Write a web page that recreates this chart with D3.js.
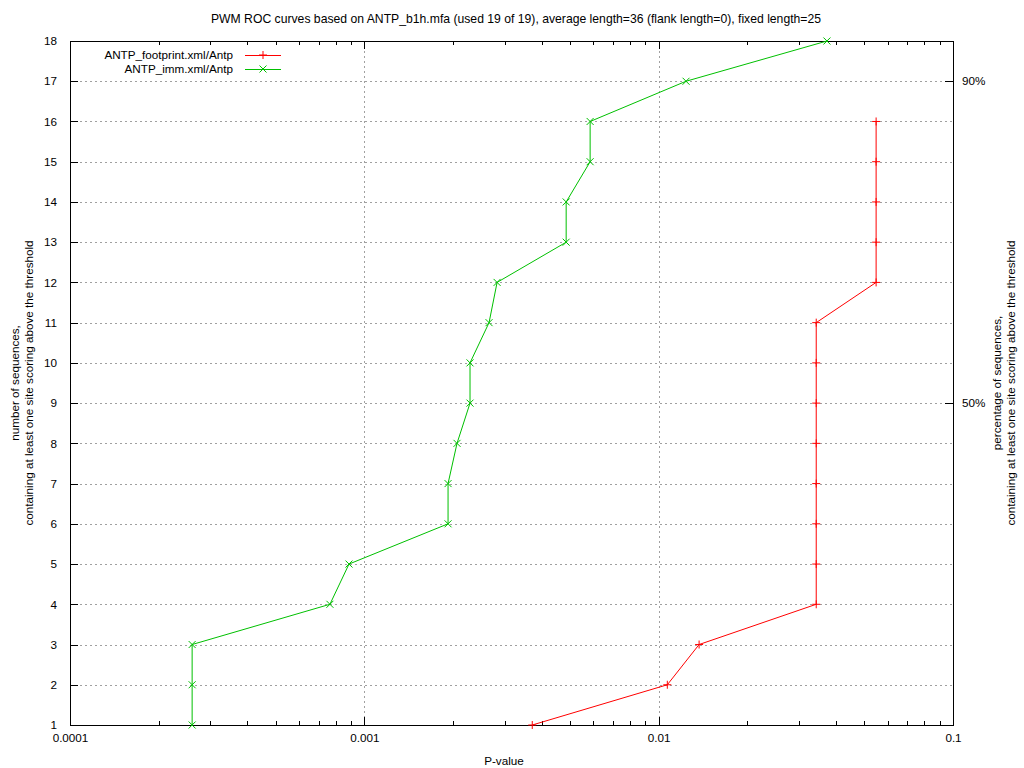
<!DOCTYPE html>
<html>
<head>
<meta charset="utf-8">
<script src="https://cdn.jsdelivr.net/npm/d3@7"></script>
<style>
  body { margin: 0; background: #fff; }
  svg { display: block; }
  text { font-family: "Liberation Sans", Arial, sans-serif; font-size: 11.7px; fill: #000; }
</style>
</head>
<body>
<svg width="1024" height="768"></svg>
<script>
// data
var titleText = "PWM ROC curves based on ANTP_b1h.mfa (used 19 of 19), average length=36 (flank length=0), fixed length=25";
var seriesNames = ["ANTP_footprint.xml/Antp", "ANTP_imm.xml/Antp"];
var seriesColors = ["#ff0000", "#00c000"];

// number of sequences (y) for each point
var footprintCounts = [1, 2, 3, 4, 5, 6, 7, 8, 9, 10, 11, 12, 13, 14, 15, 16];
var footprintPvals = [0.00372, 0.0107, 0.01372, 0.0343, 0.0343, 0.0343, 0.0343, 0.0343, 0.0343, 0.0343, 0.0343,
                      0.0548, 0.0548, 0.0548, 0.0548, 0.0548];

var immCounts = [1, 2, 3, 4, 5, 6, 7, 8, 9, 10, 11, 12, 13, 14, 15, 16, 17, 18];
var immPvals = [0.000260, 0.000260, 0.000260, 0.000764, 0.000887, 0.001925, 0.001925, 0.002065, 0.002286, 0.002286,
                0.002653, 0.002825, 0.00485, 0.00485, 0.00585, 0.00585, 0.01239, 0.0373];

var xMajor = [0.0001, 0.001, 0.01, 0.1];
var xMajorLabels = ["0.0001", "0.001", "0.01", "0.1"];
var xMinor = [];
[0.0001, 0.001, 0.01].forEach(function(d) {
    for (var k = 2; k <= 9; k++) xMinor.push(d * k);
});
var yTicks = [1, 2, 3, 4, 5, 6, 7, 8, 9, 10, 11, 12, 13, 14, 15, 16, 17, 18];
var y2Ticks = [50, 90];

var svg = d3.select("svg"),
    width = +svg.attr("width"),
    height = +svg.attr("height");

// plot box (window.top is taken, so prefix them)
var plotLeft = 70, plotRight = 953, plotTop = 41, plotBottom = 725;

var x = d3.scaleLog().domain([0.0001, 0.1]).range([plotLeft, plotRight]);
var y = d3.scaleLinear().domain([1, 18]).range([plotBottom, plotTop]);
var y2 = d3.scaleLinear().domain([10, 95]).range([plotBottom, plotTop]);

// title
svg.append("text")
    .attr("x", 516).attr("y", 23)
    .attr("text-anchor", "middle")
    .style("font-size", "12.2px")
    .text(titleText);

// grid
var grid = svg.append("g").attr("class", "grid")
    .attr("stroke", "#a0a0a0").attr("stroke-dasharray", "2,3")
    .attr("shape-rendering", "crispEdges");
grid.selectAll("line.gx")
    .data(xMajor.slice(1, 3))
    .enter().append("line")
    .attr("x1", function(d) { return Math.round(x(d)) + 0.5; })
    .attr("x2", function(d) { return Math.round(x(d)) + 0.5; })
    .attr("y1", plotTop).attr("y2", plotBottom);
grid.selectAll("line.gy")
    .data(yTicks.slice(1, -1))
    .enter().append("line")
    .attr("y1", function(d) { return Math.round(y(d)) + 0.5; })
    .attr("y2", function(d) { return Math.round(y(d)) + 0.5; })
    .attr("x1", plotLeft).attr("x2", plotRight);

// axes, ticks pointing in like gnuplot
function styleAxis(g) {
    g.select(".domain").remove();
    g.selectAll("line").attr("stroke", "#000").attr("shape-rendering", "crispEdges");
    g.selectAll("text").style("font-family", "Liberation Sans, Arial, sans-serif").style("font-size", "11.7px").attr("fill", "#000");
}

svg.append("g")
    .attr("transform", "translate(0," + plotBottom + ")")
    .call(d3.axisBottom(x).tickValues(xMajor)
        .tickFormat(function(d, i) { return xMajorLabels[i]; })
        .tickSizeInner(-8).tickSizeOuter(0).tickPadding(9))
    .call(styleAxis);
svg.append("g")
    .attr("transform", "translate(0," + plotBottom + ")")
    .call(d3.axisBottom(x).tickValues(xMinor).tickFormat("")
        .tickSizeInner(-4).tickSizeOuter(0))
    .call(styleAxis);
svg.append("g")
    .attr("transform", "translate(0," + plotTop + ")")
    .call(d3.axisTop(x).tickValues(xMajor).tickFormat("")
        .tickSizeInner(-8).tickSizeOuter(0))
    .call(styleAxis);
svg.append("g")
    .attr("transform", "translate(0," + plotTop + ")")
    .call(d3.axisTop(x).tickValues(xMinor).tickFormat("")
        .tickSizeInner(-4).tickSizeOuter(0))
    .call(styleAxis);

svg.append("g")
    .attr("transform", "translate(" + plotLeft + ",0)")
    .call(d3.axisLeft(y).tickValues(yTicks).tickFormat(d3.format("d"))
        .tickSizeInner(-8).tickSizeOuter(0).tickPadding(13))
    .call(styleAxis);

svg.append("g")
    .attr("transform", "translate(" + plotRight + ",0)")
    .call(d3.axisRight(y2).tickValues(y2Ticks).tickFormat(function(d) { return d + "%"; })
        .tickSizeInner(-8).tickSizeOuter(0).tickPadding(9))
    .call(styleAxis);

// border
svg.append("rect")
    .attr("x", plotLeft + 0.5).attr("y", plotTop + 0.5)
    .attr("width", plotRight - plotLeft).attr("height", plotBottom - plotTop)
    .attr("fill", "none").attr("stroke", "#000")
    .attr("shape-rendering", "crispEdges");

// axis titles
svg.append("text")
    .attr("x", 504).attr("y", 765)
    .attr("text-anchor", "middle")
    .text("P-value");

var yl = svg.append("text")
    .attr("transform", "translate(0," + ((plotTop + plotBottom) / 2) + ") rotate(-90)")
    .attr("text-anchor", "middle");
yl.append("tspan").attr("x", 0).attr("y", 19).text("number of sequences,");
yl.append("tspan").attr("x", 0).attr("y", 33).text("containing at least one site scoring above the threshold");

var yr = svg.append("text")
    .attr("transform", "translate(0," + ((plotTop + plotBottom) / 2) + ") rotate(-90)")
    .attr("text-anchor", "middle");
yr.append("tspan").attr("x", 0).attr("y", 1001).text("percentage of sequences,");
yr.append("tspan").attr("x", 0).attr("y", 1015).text("containing at least one site scoring above the threshold");

// series
var series = [
    { name: seriesNames[0], color: seriesColors[0], marker: "plus",
      values: footprintPvals.map(function(p, i) { return { p: p, n: footprintCounts[i] }; }) },
    { name: seriesNames[1], color: seriesColors[1], marker: "cross",
      values: immPvals.map(function(p, i) { return { p: p, n: immCounts[i] }; }) }
];

var line = d3.line()
    .x(function(d) { return x(d.p); })
    .y(function(d) { return y(d.n); });

function markerPath(type, cx, cy) {
    var s = 4;
    if (type === "plus")
        return "M" + (cx - s) + "," + cy + "H" + (cx + s) + "M" + cx + "," + (cy - s) + "V" + (cy + s);
    s = 3.5;
    return "M" + (cx - s) + "," + (cy - s) + "L" + (cx + s) + "," + (cy + s) +
           "M" + (cx - s) + "," + (cy + s) + "L" + (cx + s) + "," + (cy - s);
}

series.forEach(function(s) {
    var g = svg.append("g");
    g.append("path")
        .datum(s.values)
        .attr("d", line)
        .attr("fill", "none")
        .attr("stroke", s.color)
        .attr("stroke-width", 1);
    g.selectAll("path.mk")
        .data(s.values)
        .enter().append("path")
        .attr("class", "mk")
        .attr("d", function(d) { return markerPath(s.marker, x(d.p), y(d.n)); })
        .attr("stroke", s.color)
        .attr("stroke-width", 1)
        .attr("fill", "none");
});

// legend
var legend = svg.append("g");
series.forEach(function(s, i) {
    var ly = 55 + i * 14;
    legend.append("text")
        .attr("x", 233).attr("y", ly + 4)
        .attr("text-anchor", "end")
        .text(s.name);
    legend.append("line")
        .attr("x1", 245).attr("x2", 281)
        .attr("y1", ly + 0.5).attr("y2", ly + 0.5)
        .attr("stroke", s.color);
    legend.append("path")
        .attr("d", markerPath(s.marker, 263, ly))
        .attr("stroke", s.color).attr("fill", "none");
});
</script>
</body>
</html>
